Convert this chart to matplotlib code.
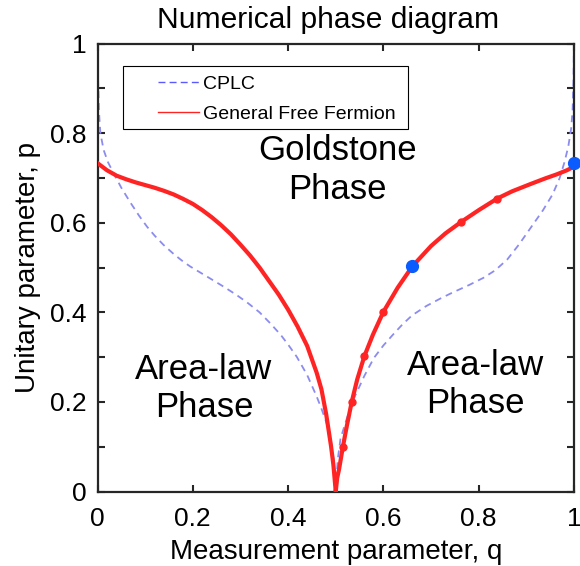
import matplotlib
matplotlib.use('Agg')
import matplotlib.pyplot as plt
from matplotlib.lines import Line2D
from matplotlib.patches import Rectangle

plt.rcParams['font.family'] = ['Liberation Sans', 'DejaVu Sans']

# ---- data ----
cplc_q = [0.000, 0.001, 0.003, 0.006, 0.013, 0.022, 0.034, 0.050, 0.069, 0.087,
          0.104, 0.120, 0.139, 0.160, 0.180, 0.195, 0.220, 0.245, 0.265, 0.290,
          0.314, 0.340, 0.363, 0.385, 0.400, 0.418, 0.440, 0.460, 0.470, 0.481,
          0.490, 0.496, 0.500,
          0.504, 0.510, 0.520, 0.530, 0.540, 0.560, 0.580, 0.600, 0.620, 0.640,
          0.660, 0.690, 0.720, 0.745, 0.780, 0.810, 0.835, 0.860, 0.885, 0.910,
          0.935, 0.955, 0.970, 0.980, 0.988, 0.994, 0.997, 0.999, 1.000]
cplc_p = [1.000, 0.930, 0.850, 0.800, 0.762, 0.735, 0.710, 0.678, 0.645, 0.616,
          0.591, 0.571, 0.550, 0.530, 0.513, 0.502, 0.486, 0.470, 0.457, 0.440,
          0.422, 0.400, 0.375, 0.349, 0.328, 0.301, 0.260, 0.212, 0.185, 0.152,
          0.112, 0.070, 0.000,
          0.070, 0.118, 0.152, 0.185, 0.212, 0.258, 0.298, 0.326, 0.350, 0.373,
          0.393, 0.414, 0.431, 0.444, 0.461, 0.477, 0.494, 0.518, 0.552, 0.590,
          0.628, 0.663, 0.700, 0.735, 0.770, 0.810, 0.850, 0.920, 1.000]

gff_q = [0.000, 0.020, 0.040, 0.060, 0.080, 0.100, 0.120, 0.140, 0.160, 0.180,
         0.200, 0.220, 0.240, 0.260, 0.280, 0.300, 0.320, 0.340, 0.360, 0.380,
         0.400, 0.420, 0.440, 0.460, 0.470, 0.480, 0.490, 0.495, 0.500,
         0.503, 0.507, 0.515, 0.523, 0.5335, 0.545, 0.560, 0.578, 0.600, 0.630,
         0.661, 0.700, 0.730, 0.7635, 0.800, 0.839, 0.870, 0.908, 0.940, 0.964,
         0.985, 1.000]
gff_p = [0.733, 0.717, 0.705, 0.697, 0.690, 0.684, 0.678, 0.671, 0.663, 0.653,
         0.642, 0.628, 0.612, 0.594, 0.574, 0.551, 0.527, 0.500, 0.470, 0.440,
         0.406, 0.368, 0.325, 0.265, 0.228, 0.172, 0.102, 0.060, 0.000,
         0.030, 0.050, 0.100, 0.145, 0.200, 0.250, 0.302, 0.350, 0.401, 0.455,
         0.503, 0.548, 0.576, 0.602, 0.628, 0.654, 0.670, 0.686, 0.699, 0.708,
         0.717, 0.725]

gff_pts_q = [0.515, 0.5335, 0.560, 0.600, 0.7635, 0.839]
gff_pts_p = [0.100, 0.200, 0.302, 0.401, 0.602, 0.654]

blue_q = [0.661, 1.000]
blue_p = [0.503, 0.734]

x_ticks = [0, 0.2, 0.4, 0.6, 0.8, 1.0]
x_ticklabels = ['0', '0.2', '0.4', '0.6', '0.8', '1']
y_ticks = [0, 0.1, 0.2, 0.3, 0.4, 0.5, 0.6, 0.7, 0.8, 0.9, 1.0]
y_ticklabels = ['0', '', '0.2', '', '0.4', '', '0.6', '', '0.8', '', '1']

# ---- figure ----
W, H = 580, 566
fig = plt.figure(figsize=(W / 100, H / 100), dpi=100)
ax = fig.add_axes([97.5 / W, (H - 491.5) / H, 476.5 / W, 448 / H])

red = '#ff2424'
dash_col = '#8c8cf0'

ax.plot(cplc_q, cplc_p, color=dash_col, lw=1.3, ls=(0, (3.8, 2.8)), zorder=2)
ax.plot(gff_q, gff_p, color=red, lw=3.0, zorder=3, solid_joinstyle='round')
ax.plot(gff_pts_q, gff_pts_p, 'o', color=red, ms=5, ls='none', zorder=4)
ax.plot(blue_q, blue_p, 'o', color='#0a5cff', ms=8.5, ls='none', zorder=5,
        clip_on=False)

ax.set_xlim(0, 1)
ax.set_ylim(0, 1)
ax.set_xticks(x_ticks)
ax.set_xticklabels(x_ticklabels)
ax.set_yticks(y_ticks)
ax.set_yticklabels(y_ticklabels)
ax.tick_params(direction='in', top=True, right=True, length=5, width=1.5,
               labelsize=19, color='#262626', labelcolor='black')
ax.tick_params(axis='x', pad=11)
ax.tick_params(axis='y', pad=8)
for s in ax.spines.values():
    s.set_linewidth(1.6)
    s.set_color('#262626')

ax.set_title('Numerical phase diagram', fontsize=21.6, pad=11, x=0.484)
ax.set_xlabel('Measurement parameter, q', fontsize=20, labelpad=6)
ax.set_ylabel('Unitary parameter, p', fontsize=20, labelpad=6)

# region labels
ax.text(0.503, 0.718, 'Goldstone\nPhase', ha='center', va='center',
        fontsize=25, linespacing=1.25)
ax.text(0.2235, 0.230, 'Area-law\nPhase', ha='center', va='center',
        fontsize=25, linespacing=1.2)
ax.text(0.794, 0.238, 'Area-law\nPhase', ha='center', va='center',
        fontsize=25, linespacing=1.2)

# legend
handles = [Line2D([], [], color='#5a5aff', lw=1.0, ls=(0, (5, 3))),
           Line2D([], [], color=red, lw=1.0)]
labels = ['CPLC', 'General Free Fermion']
leg = ax.legend(handles, labels, loc='upper left',
                bbox_to_anchor=(0.127, 0.929), frameon=False, fontsize=14,
                borderpad=0, borderaxespad=0, handlelength=2.1,
                handletextpad=0.2, labelspacing=0.62)
x0 = (123 - 97.5) / 476.5
x1 = (408 - 97.5) / 476.5
y0 = (491.5 - 129) / 448
y1 = (491.5 - 66) / 448
ax.add_patch(Rectangle((x0, y0), x1 - x0, y1 - y0, transform=ax.transAxes,
                       facecolor='white', edgecolor='black', lw=0.8, zorder=6))
leg.set_zorder(7)

fig.savefig('out.png', dpi=100)
